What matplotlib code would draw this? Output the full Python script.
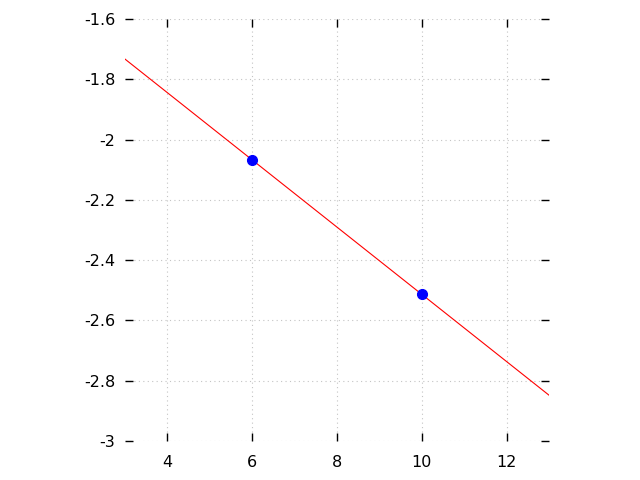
import matplotlib
matplotlib.use("Agg")
import matplotlib.pyplot as plt
import numpy as np

pts_x = [6, 10]
pts_y = [-2.067, -2.513]
line_x = [3, 13]
line_y = [-1.733, -2.848]
xticks = [4, 6, 8, 10, 12]
yticks = [-3, -2.8, -2.6, -2.4, -2.2, -2, -1.8, -1.6]
ytick_labels = ["-3", "-2.8", "-2.6", "-2.4", "-2.2", "-2", "-1.8", "-1.6"]

fig = plt.figure(figsize=(6.4, 4.8), dpi=100)
ax = fig.add_axes([125/640, 39/480, 424/640, 422/480])
ax.plot(line_x, line_y, color="red", lw=0.8, zorder=2)
ax.plot(pts_x, pts_y, "o", color="blue", ms=7, zorder=3)
ax.set_xlim(3, 13)
ax.set_ylim(-3, -1.6)
ax.set_xticks(xticks)
ax.set_xticklabels([str(v) for v in xticks])
ax.set_yticks(yticks)
ax.set_yticklabels(ytick_labels)
for s in ax.spines.values():
    s.set_visible(False)
ax.tick_params(direction="in", length=6, width=1, top=True, right=True,
               labelsize=11.5, colors="black")
ax.tick_params(axis="x", pad=10)
ax.tick_params(axis="y", pad=7)
ax.grid(True, linestyle=(0, (1, 3)), color="#c4c4c4", lw=0.8)
ax.set_axisbelow(True)
fig.savefig("out.png", dpi=100)
